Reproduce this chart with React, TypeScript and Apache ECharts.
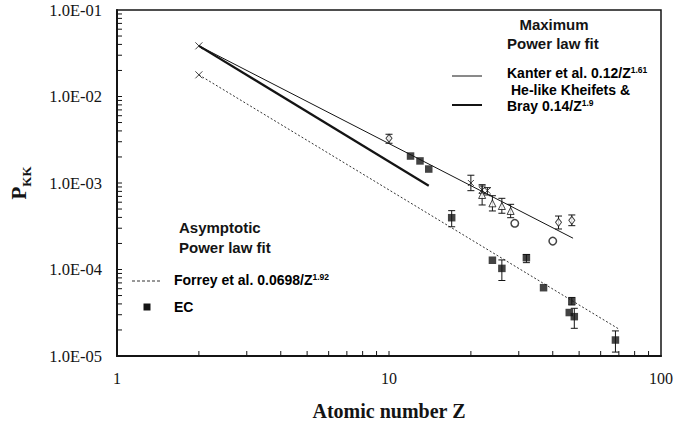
import React, { useEffect, useRef } from "react";
import * as echarts from "echarts";

// Fitted power-law lines (endpoints)
const kanterLine: [number, number][] = [[2, 0.0385], [47.5, 2.3e-4]];
const kheifetsLine: [number, number][] = [[2, 0.0385], [14, 9.3e-4]];
const forreyLine: [number, number][] = [[2, 0.0178], [70, 2.05e-5]];
const startMarkers: [number, number][] = [[2, 0.0385], [2, 0.0178]];

// EC data (filled squares)
const ecPoints: [number, number][] = [
  [12, 2.05e-3], [13, 1.8e-3], [14, 1.45e-3], [17, 3.97e-4], [24, 1.28e-4],
  [26, 1.03e-4], [32, 1.37e-4], [37, 6.16e-5], [47, 4.3e-5], [46, 3.18e-5],
  [48, 2.85e-5], [68, 1.53e-5],
];
const ecErr: [number, number, number][] = [
  [17, 3.12e-4, 4.79e-4], [26, 7.46e-5, 1.29e-4], [32, 1.2e-4, 1.49e-4],
  [47, 3.89e-5, 4.75e-5], [48, 2.09e-5, 3.56e-5], [68, 1.11e-5, 1.95e-5],
];

// Open diamonds
const diamondPoints: [number, number][] = [[10, 3.29e-3], [42, 3.51e-4], [47, 3.7e-4]];
const diamondErr: [number, number, number][] = [
  [10, 2.88e-3, 3.66e-3], [42, 2.94e-4, 4.15e-4], [47, 3.21e-4, 4.27e-4],
];

// Open circles
const circlePoints: [number, number][] = [[29, 3.42e-4], [40, 2.13e-4]];

// Open triangles
const trianglePoints: [number, number][] = [[22, 7.27e-4], [24, 5.82e-4], [26, 5.42e-4], [28, 4.75e-4]];
const triangleErr: [number, number, number][] = [
  [22, 5.57e-4, 9.23e-4], [24, 4.75e-4, 7.13e-4], [26, 4.47e-4, 6.65e-4], [28, 3.97e-4, 5.67e-4],
];

// Crosses
const crossPoints: [number, number][] = [[20, 1.0e-3], [22, 8.3e-4], [23, 8.15e-4]];
const crossErr: [number, number, number][] = [
  [20, 8.15e-4, 1.23e-3], [22, 7.6e-4, 9.56e-4], [23, 7.27e-4, 8.83e-4],
];

// Minor tick positions
const tickMantissas = [2, 3, 4, 5, 6, 7, 8, 9];
const xDecades = [1, 10];
const yDecades = [1e-5, 1e-4, 1e-3, 1e-2];
const xTickLabels = ["1", "10", "100"];

const SERIF = "'Liberation Serif', 'Times New Roman', serif";
const SANS = "'Liberation Sans', Arial, sans-serif";
const INK = "#141414";

const crossPath = "path://M0,0L10,10M10,0L0,10";

export default function App() {
  const ref = useRef<HTMLDivElement>(null);
  useEffect(() => {
    document.body.style.margin = "0";
    if (!ref.current) return;
    const chart = echarts.init(ref.current, null, { renderer: "svg" });

    const errData = [...ecErr, ...diamondErr, ...triangleErr, ...crossErr];
    const tickData: number[][] = [];
    xDecades.forEach((d) => tickMantissas.forEach((m) => tickData.push([m * d, 1e-5, 0])));
    tickData.push([10, 1e-5, 0]);
    yDecades.forEach((d) => tickMantissas.forEach((m) => tickData.push([1, m * d, 1])));
    yDecades.forEach((d) => { if (d > 1e-5) tickData.push([1, d, 1]); });

    const legendMain = { fontFamily: SANS, fontSize: 14, fontWeight: "bold", color: INK, lineHeight: 17, verticalAlign: "bottom" };
    const legendSup = { fontFamily: SANS, fontSize: 8.5, fontWeight: "bold", color: INK, lineHeight: 17, verticalAlign: "top", padding: [3, 0, 0, 0] };
    const head = { fontFamily: SANS, fontSize: 15, fontWeight: "bold", fill: INK };

    const option: any = {
      animation: false,
      grid: { left: 114, right: 13, top: 10, bottom: 74, show: true, borderColor: INK, borderWidth: 1.5, backgroundColor: "transparent" },
      xAxis: {
        type: "log", logBase: 10, min: 1, max: 100,
        axisLine: { lineStyle: { color: INK, width: 2 } },
        axisTick: { show: false },
        splitLine: { show: false },
        axisLabel: {
          fontFamily: SERIF, fontSize: 16, color: INK, margin: 14,
          formatter: (v: number) => xTickLabels[Math.round(Math.log10(v))],
        },
        name: "Atomic number Z", nameLocation: "middle", nameGap: 45,
        nameTextStyle: { fontFamily: SERIF, fontSize: 20, fontWeight: "bold", color: INK },
      },
      yAxis: {
        type: "log", logBase: 10, min: 1e-5, max: 0.1,
        axisLine: { lineStyle: { color: INK, width: 2 } },
        axisTick: { show: false },
        splitLine: { show: false },
        axisLabel: {
          fontFamily: SERIF, fontSize: 16.5, color: INK, margin: 15,
          formatter: (v: number) => {
            const e = Math.round(Math.log10(v));
            return "1.0E-" + String(-e).padStart(2, "0");
          },
        },
        name: "{p|P}{s|KK}", nameLocation: "middle", nameGap: 84, nameRotate: 90,
        nameTextStyle: {
          rich: {
            p: { fontFamily: SERIF, fontSize: 21, fontWeight: "bold", color: INK, lineHeight: 25, verticalAlign: "top" },
            s: { fontFamily: SERIF, fontSize: 13, fontWeight: "bold", color: INK, lineHeight: 25, verticalAlign: "bottom" },
          },
        },
      },
      series: [
        {
          type: "custom", name: "ticks", silent: true, clip: false,
          data: tickData,
          renderItem: (params: any, api: any) => {
            const p = api.coord([api.value(0), api.value(1)]);
            const vertical = api.value(2) === 0;
            return {
              type: "line",
              shape: vertical
                ? { x1: p[0], y1: p[1], x2: p[0], y2: p[1] - 5 }
                : { x1: p[0], y1: p[1], x2: p[0] + 5, y2: p[1] },
              style: { stroke: INK, lineWidth: 1 },
            };
          },
          z: 1,
        },
        {
          type: "line", name: "Forrey", data: forreyLine, symbol: "none",
          lineStyle: { color: "#333", width: 1, type: [2, 2] }, z: 2,
        },
        {
          type: "line", name: "Kanter", data: kanterLine, symbol: "none",
          lineStyle: { color: INK, width: 1 }, z: 2,
        },
        {
          type: "line", name: "Kheifets", data: kheifetsLine, symbol: "none",
          lineStyle: { color: INK, width: 2.2 }, z: 2,
        },
        {
          type: "custom", name: "errors", silent: true,
          data: errData,
          encode: { x: 0, y: [1, 2] },
          renderItem: (params: any, api: any) => {
            const z = api.value(0);
            const a = api.coord([z, api.value(1)]);
            const b = api.coord([z, api.value(2)]);
            const w = 3.5;
            const st = { stroke: INK, lineWidth: 1 };
            return {
              type: "group",
              children: [
                { type: "line", shape: { x1: a[0], y1: a[1], x2: b[0], y2: b[1] }, style: st },
                { type: "line", shape: { x1: a[0] - w, y1: a[1], x2: a[0] + w, y2: a[1] }, style: st },
                { type: "line", shape: { x1: b[0] - w, y1: b[1], x2: b[0] + w, y2: b[1] }, style: st },
              ],
            };
          },
          z: 3,
        },
        {
          type: "scatter", name: "start", data: startMarkers, symbol: crossPath, symbolSize: 7,
          itemStyle: { color: "none", borderColor: INK, borderWidth: 1 }, z: 4,
        },
        {
          type: "scatter", name: "EC", data: ecPoints, symbol: "rect", symbolSize: 7.5,
          itemStyle: { color: INK }, z: 4,
        },
        {
          type: "scatter", name: "diamonds", data: diamondPoints, symbol: "diamond", symbolSize: [6, 8],
          itemStyle: { color: "#fff", borderColor: INK, borderWidth: 1 }, z: 4,
        },
        {
          type: "scatter", name: "circles", data: circlePoints, symbol: "circle", symbolSize: 7.5,
          itemStyle: { color: "#fff", borderColor: INK, borderWidth: 1.5 }, z: 4,
        },
        {
          type: "scatter", name: "triangles", data: trianglePoints, symbol: "triangle", symbolSize: 7,
          itemStyle: { color: "#fff", borderColor: INK, borderWidth: 1 }, z: 4,
        },
        {
          type: "scatter", name: "crosses", data: crossPoints, symbol: crossPath, symbolSize: 6,
          itemStyle: { color: "none", borderColor: INK, borderWidth: 1 }, z: 4,
        },
      ],
      graphic: [
        { type: "text", x: 554, y: 24, style: { ...head, text: "Maximum", align: "center", verticalAlign: "middle" } },
        { type: "text", x: 507, y: 43, style: { ...head, text: "Power law fit", align: "left", verticalAlign: "middle" } },
        { type: "line", shape: { x1: 452, y1: 76, x2: 482, y2: 76 }, style: { stroke: INK, lineWidth: 1 } },
        {
          type: "text", x: 507, y: 71,
          style: { text: "{m|Kanter et al. 0.12/Z}{s|1.61}", rich: { m: legendMain, s: legendSup }, align: "left", verticalAlign: "middle" },
        },
        {
          type: "text", x: 511, y: 88,
          style: { text: "{m|He-like Kheifets &}", rich: { m: legendMain }, align: "left", verticalAlign: "middle" },
        },
        {
          type: "text", x: 507, y: 104,
          style: { text: "{m|Bray 0.14/Z}{s|1.9}", rich: { m: legendMain, s: legendSup }, align: "left", verticalAlign: "middle" },
        },
        { type: "line", shape: { x1: 452, y1: 105, x2: 482, y2: 105 }, style: { stroke: INK, lineWidth: 2 } },
        { type: "text", x: 179, y: 227, style: { ...head, text: "Asymptotic", align: "left", verticalAlign: "middle" } },
        { type: "text", x: 179, y: 247, style: { ...head, text: "Power law fit", align: "left", verticalAlign: "middle" } },
        { type: "line", shape: { x1: 132, y1: 281, x2: 160, y2: 281 }, style: { stroke: "#333", lineWidth: 1, lineDash: [3, 2] } },
        {
          type: "text", x: 174, y: 278,
          style: { text: "{m|Forrey et al. 0.0698/Z}{s|1.92}", rich: { m: legendMain, s: legendSup }, align: "left", verticalAlign: "middle" },
        },
        { type: "rect", shape: { x: 143.5, y: 303.5, width: 7, height: 7 }, style: { fill: INK } },
        {
          type: "text", x: 174, y: 305,
          style: { text: "{m|EC}", rich: { m: legendMain }, align: "left", verticalAlign: "middle" },
        },
      ],
    };
    chart.setOption(option);
    return () => chart.dispose();
  }, []);
  return <div ref={ref} style={{ width: 676, height: 430 }} />;
}
